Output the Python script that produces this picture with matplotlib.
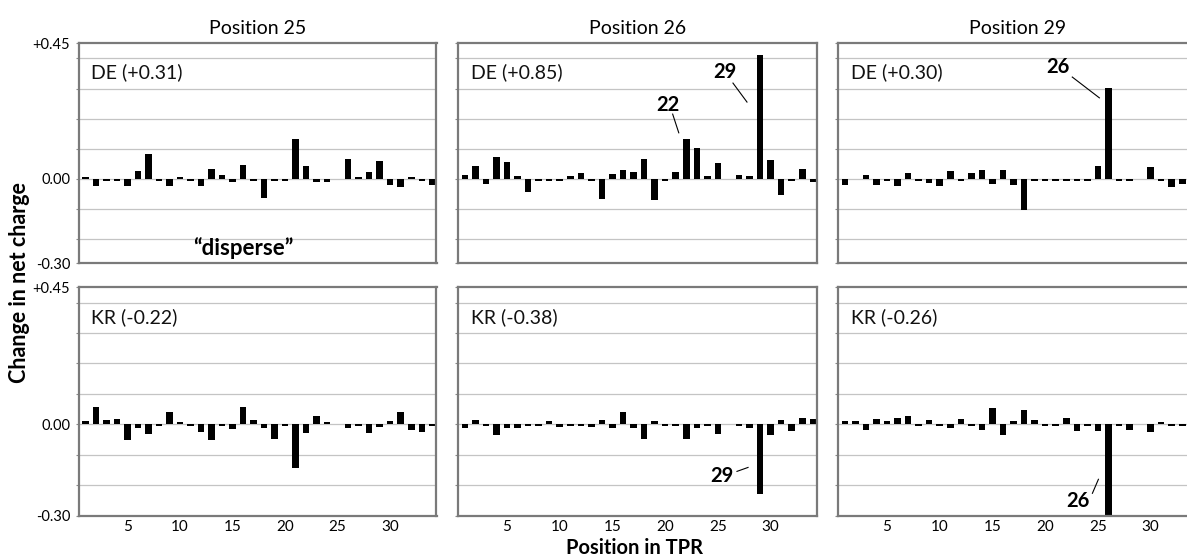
import matplotlib
matplotlib.use("Agg")
import matplotlib.pyplot as plt
import numpy as np

plt.rcParams['font.family'] = ['Lato', 'DejaVu Sans']

positions = np.arange(1, 35)

de25 = [0.006, -0.022, -0.006, -0.006, -0.025, 0.025, 0.083, -0.006, -0.022, 0.006, -0.006, -0.024,
        0.033, 0.012, -0.010, 0.047, -0.006, -0.062, -0.006, -0.006, 0.133, 0.044, -0.011, -0.011,
        0.0, 0.065, 0.006, 0.022, 0.060, -0.020, -0.027, 0.006, -0.006, -0.020]
kr25 = [0.010, 0.055, 0.015, 0.018, -0.052, -0.011, -0.032, -0.006, 0.040, 0.008, -0.006, -0.027,
        -0.052, -0.006, -0.015, 0.055, 0.013, -0.013, -0.047, -0.006, -0.145, -0.030, 0.026, 0.008,
        0.0, -0.014, -0.006, -0.030, -0.009, 0.011, 0.040, -0.020, -0.027, -0.006]
de26 = [0.013, 0.042, -0.017, 0.074, 0.057, 0.011, -0.044, -0.006, -0.007, -0.006, 0.010, 0.018,
        -0.006, -0.066, 0.016, 0.030, 0.022, 0.066, -0.071, -0.006, 0.022, 0.134, 0.101, 0.009,
        0.053, 0.0, 0.013, 0.009, 0.410, 0.064, -0.055, -0.006, 0.033, -0.011]
kr26 = [-0.014, 0.015, -0.006, -0.034, -0.012, -0.012, -0.006, -0.006, 0.010, -0.009, -0.006, -0.006,
        -0.009, 0.013, -0.014, 0.040, -0.011, -0.050, 0.010, -0.006, -0.006, -0.049, -0.011, -0.006,
        -0.031, 0.0, -0.006, -0.011, -0.230, -0.034, 0.013, -0.023, 0.021, 0.016]
de29 = [-0.019, 0.0, 0.014, -0.019, -0.006, -0.022, 0.020, -0.006, -0.013, -0.022, 0.025, -0.006,
        0.018, 0.031, -0.017, 0.031, -0.021, -0.104, -0.006, -0.006, -0.006, -0.006, -0.006, -0.006,
        0.044, 0.303, -0.006, -0.006, 0.0, 0.040, -0.006, -0.028, -0.017, -0.006]
kr29 = [0.011, 0.010, -0.020, 0.016, 0.011, 0.019, 0.026, -0.006, 0.013, -0.006, -0.014, 0.016,
        -0.007, -0.020, 0.054, -0.036, 0.011, 0.046, 0.013, -0.006, -0.006, 0.022, -0.023, -0.006,
        -0.023, -0.320, -0.006, -0.020, 0.0, -0.025, 0.006, -0.006, -0.006, -0.006]

titles = ["Position 25", "Position 26", "Position 29"]
de_labels = ["DE (+0.31)", "DE (+0.85)", "DE (+0.30)"]
kr_labels = ["KR (-0.22)", "KR (-0.38)", "KR (-0.26)"]
de_data = [de25, de26, de29]
kr_data = [kr25, kr26, kr29]
xticks = [5, 10, 15, 20, 25, 30]

# callouts: (row, col, text, text xy, line start, line end)
callouts = [
    (0, 1, "22", (20.24, 0.245), (20.71, 0.215), (21.29, 0.153)),
    (0, 1, "29", (25.67, 0.355), (26.43, 0.318), (27.76, 0.255)),
    (0, 2, "26", (21.24, 0.371), (22.57, 0.338), (25.14, 0.269)),
    (1, 1, "29", (25.38, -0.171), (26.81, -0.155), (27.86, -0.142)),
    (1, 2, "26", (23.14, -0.252), (24.48, -0.227), (25.05, -0.181)),
]

W, H = 1187, 557
fig = plt.figure(figsize=(W / 100, H / 100), dpi=100)

cols_px = [(78.5, 436.5), (458, 817), (838, 1197)]
rows_px = [(43.3, 263.3), (287.3, 515.5)]
ylims = [(-0.28, 0.45), (-0.30, 0.45)]

axes = {}
for r, (top, bot) in enumerate(rows_px):
    for c, (left, right) in enumerate(cols_px):
        ax = fig.add_axes([left / W, 1 - bot / H, (right - left) / W, (bot - top) / H])
        axes[(r, c)] = ax
        vals = de_data[c] if r == 0 else kr_data[c]
        lab = de_labels[c] if r == 0 else kr_labels[c]

        for g in np.arange(-0.2, 0.45, 0.1):
            ax.axhline(g, color='#c4c4c4', lw=0.9, zorder=0)
        ax.bar(positions, vals, width=0.62, color='black', linewidth=0, zorder=2)

        ax.set_xlim(0.35, 34.4)
        ax.set_ylim(*ylims[r])
        for s in ax.spines.values():
            s.set_color('#7a7a7a')
            s.set_linewidth(1.6)

        ax.text(0.035, 0.87, lab, transform=ax.transAxes, fontsize=14,
                ha='left', va='center', color='#111111')

        ax.set_yticks(np.arange(-0.2, 0.45, 0.1), minor=True)
        ax.tick_params(axis='y', which='both', length=2.5, color='#8a8a8a', width=0.8)
        ax.set_yticks([ylims[r][0], 0.0, 0.45])
        if c == 0:
            ax.set_yticklabels(["-0.30", "0.00", "+0.45"], fontsize=10.5)
        else:
            ax.set_yticklabels([])

        if r == 1:
            ax.set_xticks(xticks)
            ax.set_xticklabels([str(t) for t in xticks], fontsize=11)
            ax.tick_params(axis='x', length=0, pad=3)
        else:
            ax.set_xticks([])
            ax.text(0.5, 1 + 14.5 / 220, titles[c], transform=ax.transAxes,
                    fontsize=14, ha='center', va='center')

for r, c, txt, txy, p0, p1 in callouts:
    ax = axes[(r, c)]
    ax.text(txy[0], txy[1], txt, fontsize=14.5, fontweight='bold', ha='center', va='center')
    ax.plot([p0[0], p1[0]], [p0[1], p1[1]], color='black', lw=0.8)

axes[(0, 0)].text(0.46, 0.07, "\u201cdisperse\u201d", transform=axes[(0, 0)].transAxes,
                  fontsize=16, fontweight='bold', ha='center', va='center')

fig.text(20 / W, 1 - 283 / H, "Change in net charge", rotation=90, fontsize=15.5,
         fontweight='bold', ha='center', va='center')
fig.text(635 / W, 1 - 553.5 / H, "Position in TPR", fontsize=14.5, fontweight='bold',
         ha='center', va='baseline')

fig.savefig("out.png", dpi=100)
